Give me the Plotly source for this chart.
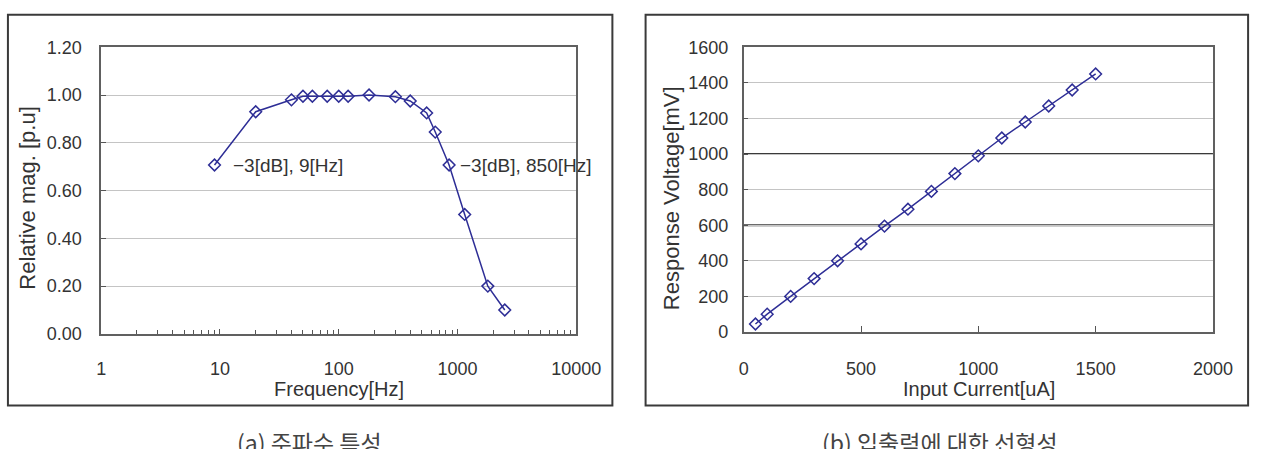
import math
import plotly.graph_objects as go

# ---------------- data ----------------
freq_hz = [9, 20, 40, 50, 60, 80, 100, 120, 180, 300, 400, 550, 650, 850, 1150, 1800, 2500]
rel_mag = [0.707, 0.93, 0.98, 0.995, 0.995, 0.995, 0.995, 0.995, 1.00, 0.993, 0.975, 0.925,
           0.845, 0.707, 0.50, 0.20, 0.10]
freq_ticks = [1, 10, 100, 1000, 10000]
freq_tick_text = ["1", "10", "100", "1000", "10000"]
mag_ticks = [0.0, 0.2, 0.4, 0.6, 0.8, 1.0, 1.2]
mag_tick_text = ["0.00", "0.20", "0.40", "0.60", "0.80", "1.00", "1.20"]

current_ua = [50, 100, 200, 300, 400, 500, 600, 700, 800, 900, 1000, 1100, 1200, 1300, 1400, 1500]
voltage_mv = [45, 100, 200, 300, 400, 495, 595, 690, 790, 890, 990, 1090, 1180, 1270, 1360, 1450]
current_ticks = [0, 500, 1000, 1500, 2000]
voltage_ticks = [0, 200, 400, 600, 800, 1000, 1200, 1400, 1600]
dark_grid_levels = [600, 1000]

cutoff_labels = ["−3[dB], 9[Hz]", "−3[dB], 850[Hz]"]
cutoff_freqs = [9, 850]
cutoff_mags = [0.707, 0.707]

captions = ["(a) 주파수 특성", "(b) 입출력에 대한 선형성"]
x_titles = ["Frequency[Hz]", "Input Current[uA]"]
y_titles = ["Relative mag. [p.u]", "Response Voltage[mV]"]

# ---------------- layout helpers ----------------
W, H = 1277, 449
def fx(p):
    return p / W
def fy(p):
    return 1 - p / H

FONT = "Liberation Sans, Arial, sans-serif"
LINE_COL = "#2e2e96"
TXT = "#333333"

fig = go.Figure()

fig.add_trace(go.Scatter(
    x=freq_hz, y=rel_mag, mode="lines+markers", xaxis="x", yaxis="y",
    line=dict(color=LINE_COL, width=1.5),
    marker=dict(symbol="diamond-open", size=9, color=LINE_COL, line=dict(width=1.5, color=LINE_COL)),
    showlegend=False, hoverinfo="x+y"))

fig.add_trace(go.Scatter(
    x=current_ua, y=voltage_mv, mode="lines+markers", xaxis="x2", yaxis="y2",
    line=dict(color=LINE_COL, width=1.5),
    marker=dict(symbol="diamond-open", size=9, color=LINE_COL, line=dict(width=1.5, color=LINE_COL)),
    showlegend=False, hoverinfo="x+y"))

axis_common = dict(showline=True, mirror=True, linecolor="#606060", linewidth=1.5,
                   tickfont=dict(family=FONT, size=18, color=TXT), zeroline=False)

fig.update_layout(
    width=W, height=H, margin=dict(l=0, r=0, t=0, b=0), autosize=False,
    paper_bgcolor="white", plot_bgcolor="white",
    xaxis=dict(domain=[fx(98.5), fx(585)], anchor="y", type="log", range=[0, 4],
               tickvals=freq_ticks, ticktext=freq_tick_text, ticks="inside", ticklen=5,
               tickcolor="#555555", showgrid=False, ticklabelstandoff=18,
               minor=dict(ticks="inside", ticklen=4, tickcolor="#555555", dtick="D1", showgrid=False),
               **axis_common),
    yaxis=dict(domain=[fy(339), fy(39)], anchor="x", range=[0, 1.2],
               tickvals=mag_ticks, ticktext=mag_tick_text, ticks="inside", ticklen=5,
               tickcolor="#555555", showgrid=True, gridcolor="#c4c4c4", gridwidth=1,
               ticklabelstandoff=14, **axis_common),
    xaxis2=dict(domain=[fx(756.5), fx(1237)], anchor="y2", range=[0, 2000],
                tickvals=current_ticks, ticks="inside", ticklen=6, tickcolor="#555555",
                showgrid=False, ticklabelstandoff=20, **axis_common),
    yaxis2=dict(domain=[fy(337), fy(39)], anchor="x2", range=[0, 1600],
                tickvals=voltage_ticks, ticks="inside", ticklen=5, tickcolor="#555555",
                showgrid=True, gridcolor="#c4c4c4", gridwidth=1,
                ticklabelstandoff=10, **axis_common),
)

shapes = []
# outer frames of the two panels
for x0, x1 in [(3, 622), (656, 1273)]:
    shapes.append(dict(type="rect", xref="paper", yref="paper",
                       x0=fx(x0), x1=fx(x1), y0=fy(414), y1=fy(5),
                       line=dict(color="#3a3a3a", width=2), fillcolor="rgba(0,0,0,0)"))
for lvl in dark_grid_levels:
    shapes.append(dict(type="line", xref="x2 domain", yref="y2", x0=0, x1=1, y0=lvl, y1=lvl,
                       line=dict(color="#3a3a3a", width=2), layer="below"))
fig.update_layout(shapes=shapes)

ann = []
for txt, f, m in zip(cutoff_labels, cutoff_freqs, cutoff_mags):
    ann.append(dict(text=txt, x=math.log10(f), y=m, xref="x", yref="y",
                    xanchor="left", yanchor="middle", xshift=16 if f < 100 else 9, showarrow=False,
                    font=dict(family=FONT, size=19, color=TXT)))
# axis titles
for txt, cx in zip(x_titles, [342, 997]):
    ann.append(dict(text=txt, x=fx(cx), y=fy(397), xref="paper", yref="paper",
                    xanchor="center", yanchor="middle", showarrow=False,
                    font=dict(family=FONT, size=20, color=TXT)))
for txt, cx in zip(y_titles, [23, 682]):
    ann.append(dict(text=txt, x=fx(cx), y=fy(197), xref="paper", yref="paper",
                    xanchor="center", yanchor="middle", showarrow=False, textangle=-90,
                    font=dict(family=FONT, size=22, color=TXT)))
# captions (cut by the bottom edge as in the reference)
for txt, cx in zip(captions, [312, 958]):
    ann.append(dict(text=txt, x=fx(cx), y=fy(432), xref="paper", yref="paper",
                    xanchor="center", yanchor="top", showarrow=False,
                    font=dict(family="Noto Sans CJK KR, sans-serif", size=23, color="#444444")))
fig.update_layout(annotations=ann)

fig.write_html("out.html", config={"responsive": False},
               post_script="document.body.style.margin='0';document.body.style.overflow='hidden';")
